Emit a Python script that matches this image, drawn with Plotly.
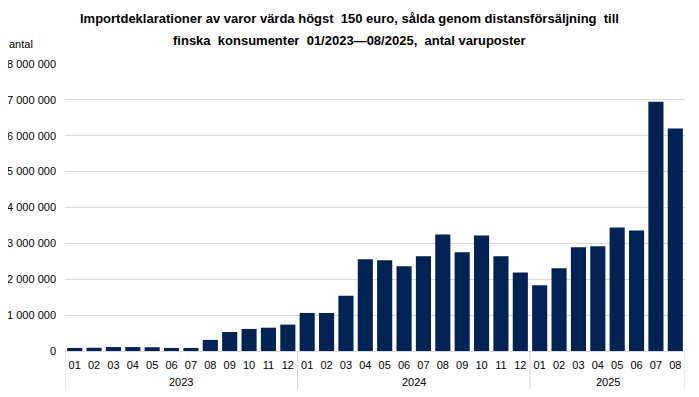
import plotly.graph_objects as go

years = ["2023"] * 12 + ["2024"] * 12 + ["2025"] * 8
months = ["01", "02", "03", "04", "05", "06", "07", "08", "09", "10", "11", "12"] * 2 + \
         ["01", "02", "03", "04", "05", "06", "07", "08"]
values = [
    85000, 90000, 110000, 110000, 105000, 85000, 85000, 310000, 530000, 615000, 650000, 735000,
    1060000, 1060000, 1540000, 2556000, 2530000, 2360000, 2640000, 3250000, 2750000, 3220000, 2640000, 2190000,
    1830000, 2310000, 2890000, 2920000, 3440000, 3360000, 6950000, 6200000,
]
tick_vals = [0, 1000000, 2000000, 3000000, 4000000, 5000000, 6000000, 7000000, 8000000]
tick_text = ["0", "1 000 000", "2 000 000", "3 000 000", "4 000 000",
             "5 000 000", "6 000 000", "7 000 000", "8 000 000"]

title_line1 = "Importdeklarationer av varor värda högst  150 euro, sålda genom distansförsäljning  till"
title_line2 = "finska  konsumenter  01/2023\u201408/2025,  antal varuposter"

# page body has an 8px margin, so the figure is drawn 8px in from the window edges
OFF = 8
W, H = 699 - OFF, 397 - OFF
L, R, T, B = 65 - OFF, 14, 64 - OFF, 46
pw, ph = W - L - R, H - T - B

def px_x(x):  # window pixel -> paper
    return (x - OFF - L) / pw

def px_y(y):
    return (H - B - (y - OFF)) / ph

idx = list(range(len(values)))

fig = go.Figure()
fig.add_trace(go.Bar(
    x=idx,
    y=values,
    marker=dict(color="#002255", line=dict(width=0)),
    hoverinfo="skip",
))

# year groups: dividers and centred labels derived from the category data
groups = []
for i, yr in enumerate(years):
    if not groups or groups[-1][0] != yr:
        groups.append([yr, i, i])
    else:
        groups[-1][2] = i

shapes = []
annotations = []
div_bottom = px_y(390)
bounds = [g[1] - 0.5 for g in groups] + [groups[-1][2] + 0.5]
for b in bounds:
    shapes.append(dict(type="line", xref="x", yref="paper", x0=b, x1=b, y0=0, y1=div_bottom,
                       line=dict(color="#d9d9d9", width=1)))
for yr, a, b in groups:
    annotations.append(dict(text=yr, xref="x", yref="paper", x=(a + b) / 2, y=px_y(382),
                            xanchor="center", yanchor="middle", showarrow=False,
                            font=dict(size=11, color="#000000")))

title_font = dict(family="Liberation Sans, Arial, sans-serif", size=13, color="#000000", weight="bold")
annotations += [
    dict(text=title_line1, xref="paper", yref="paper", x=px_x(349.5), y=px_y(19),
         xanchor="center", yanchor="middle", showarrow=False, font=title_font),
    dict(text=title_line2, xref="paper", yref="paper", x=px_x(349.5), y=px_y(40),
         xanchor="center", yanchor="middle", showarrow=False, font=title_font),
    dict(text="antal", xref="paper", yref="paper", x=px_x(7), y=px_y(44),
         xanchor="left", yanchor="middle", showarrow=False,
         font=dict(size=11, color="#000000")),
]

fig.update_layout(
    width=W, height=H,
    margin=dict(l=L, r=R, t=T, b=B),
    paper_bgcolor="white", plot_bgcolor="white",
    bargap=0.22,
    showlegend=False,
    font=dict(family="Liberation Sans, Arial, sans-serif", size=11, color="#000000"),
    xaxis=dict(
        automargin=False,
        range=[-0.5, len(values) - 0.5],
        tickmode="array", tickvals=idx, ticktext=months,
        showline=True, linecolor="#d9d9d9", linewidth=1,
        tickfont=dict(size=11, color="#000000"),
        tickangle=0,
        ticklabelstandoff=4,
        ticks="", showgrid=False, zeroline=False,
    ),
    yaxis=dict(
        automargin=False,
        range=[0, 8000000],
        tickvals=tick_vals, ticktext=tick_text,
        showgrid=True, gridcolor="#d9d9d9", gridwidth=1,
        zeroline=False, showline=False, ticks="",
        ticklabelstandoff=8,
        tickfont=dict(size=11, color="#000000"),
    ),
    shapes=shapes,
    annotations=annotations,
)

fig.write_html("out.html")
